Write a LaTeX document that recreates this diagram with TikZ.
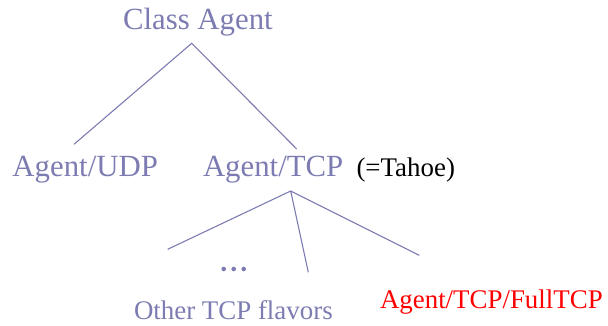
\documentclass[tikz,border=0pt]{standalone}
\usepackage{fontspec}
\setmainfont{Liberation Serif}
\definecolor{classblue}{RGB}{124,124,178}
\definecolor{fullred}{RGB}{255,0,0}
\begin{document}
\begin{tikzpicture}[x=1pt,y=1pt,
  label/.style={inner sep=0pt,outer sep=0pt,anchor=base west},
  bigtext/.style={label,text=classblue,font=\fontsize{30.8}{36}\selectfont},
  smalltext/.style={label,font=\fontsize{26.9}{32}\selectfont},
  branch/.style={draw=classblue,line width=1.1pt},
  dot/.style={circle,fill=classblue,inner sep=0pt,minimum size=4.6pt}]
\useasboundingbox (0,0) rectangle (608,326);
% class names
\node[bigtext] (agent) at (123,296) {Class Agent};
\node[bigtext] (udp) at (12.5,149.3) {Agent/UDP};
\node[bigtext] (tcp) at (203,149.3) {Agent/TCP};
\node[smalltext] (tahoe) at (356.5,149) {(=Tahoe)};
\node[smalltext,text=classblue] (others) at (134,6) {Other TCP flavors};
\node[smalltext,text=fullred] (full) at (380,17.7) {Agent/TCP/FullTCP};
% ellipsis
\node[dot] (d1) at (223.7,57) {};
\node[dot] (d2) at (233.7,57) {};
\node[dot] (d3) at (243.7,57) {};
% branch points
\coordinate (top) at (191.7,282.7);
\coordinate (udpend) at (74,181.7);
\coordinate (tcpend) at (296.7,177);
\coordinate (tcptop) at (290.7,135);
\coordinate (leftend) at (167.7,76.7);
\coordinate (midend) at (308.3,53.7);
\coordinate (fullend) at (419.3,70.7);
% inheritance lines
\draw[branch] (udpend) -- (top) -- (tcpend);
\draw[branch] (leftend) -- (tcptop) -- (fullend);
\draw[branch] (tcptop) -- (midend);
\end{tikzpicture}
\end{document}
